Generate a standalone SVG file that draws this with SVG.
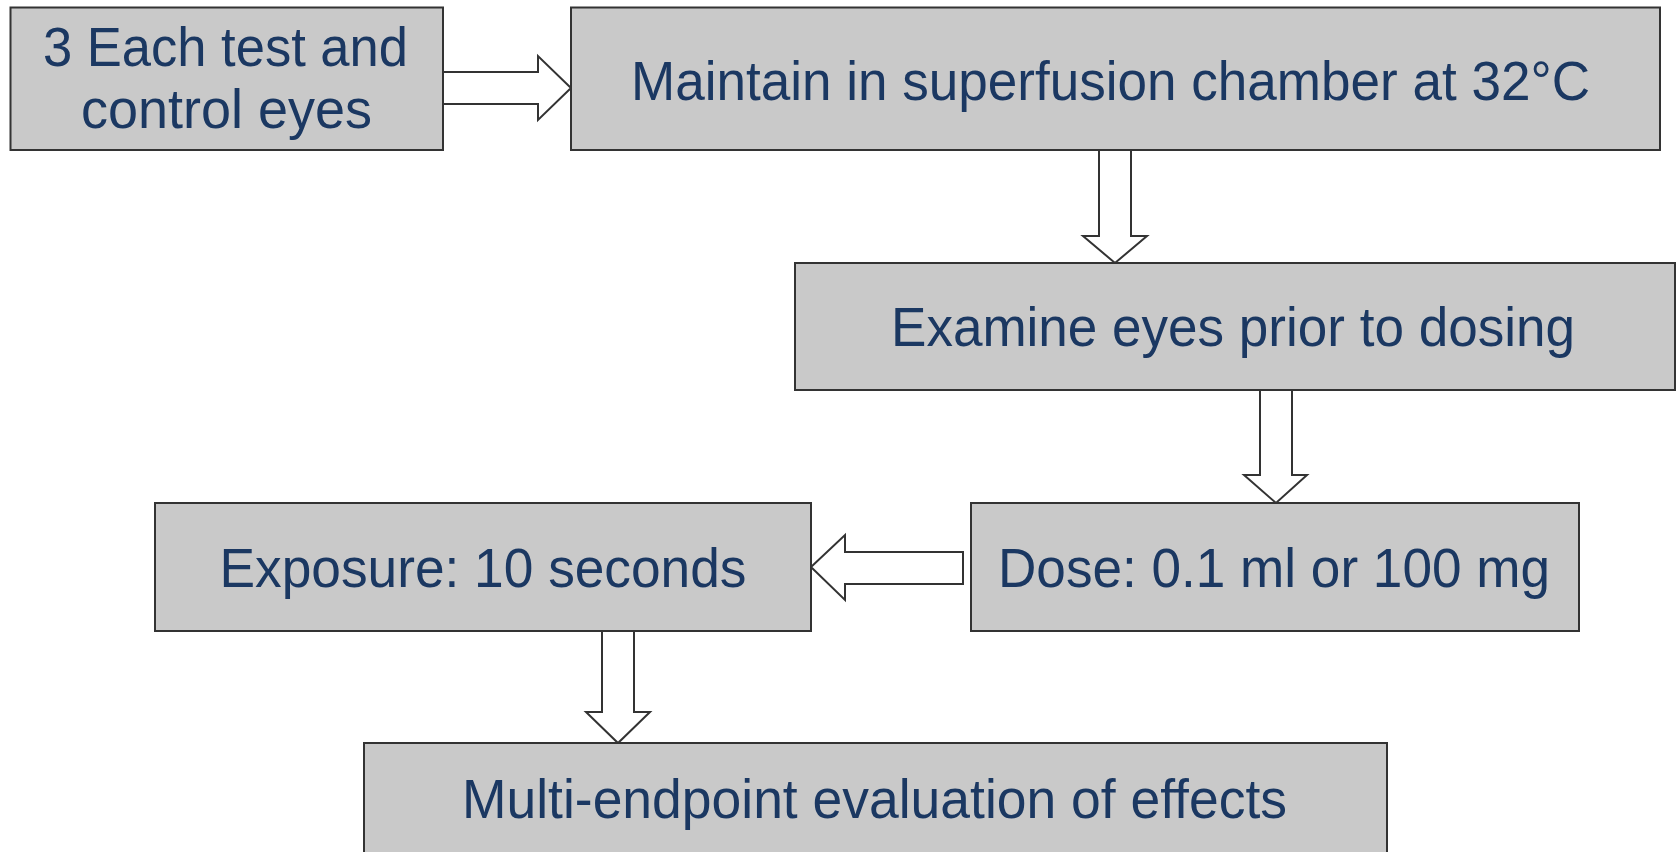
<svg xmlns="http://www.w3.org/2000/svg" width="1677" height="852" viewBox="0 0 1677 852">
<style>
.box{fill:#c9c9c9;stroke:#333;stroke-width:2}
.lbl{font-family:"Liberation Sans",Arial,sans-serif;font-size:55px;fill:#1b3862;text-anchor:middle}
.arr{fill:#fff;stroke:#333;stroke-width:2;stroke-linejoin:miter}
</style>
<rect width="1677" height="852" fill="#fff"/>
<g id="connectors">
<polygon class="arr" points="443,72 538,72 538,56 571,88 538,120 538,104 443,104"/>
<polygon class="arr" points="1099,150 1131,150 1131,236 1147,236 1115,263 1083,236 1099,236"/>
<polygon class="arr" points="1260,390 1292,390 1292,475 1307,475 1276,503 1244,475 1260,475"/>
<polygon class="arr" points="963,552 845,552 845,535 811,567 845,600 845,584 963,584"/>
<polygon class="arr" points="602,631 634,631 634,712 650,712 618,743 586,712 602,712"/>
</g>
<g id="n1">
<rect class="box" x="10.5" y="7.5" width="432.5" height="142.5"/>
<text class="lbl" x="225.5" y="66" textLength="365" lengthAdjust="spacingAndGlyphs">3 Each test and</text>
<text class="lbl" x="226.5" y="128" textLength="291" lengthAdjust="spacingAndGlyphs">control eyes</text>
</g>
<g id="n2">
<rect class="box" x="571" y="7.5" width="1089" height="142.5"/>
<text class="lbl" x="1110.5" y="100" textLength="959" lengthAdjust="spacingAndGlyphs">Maintain in superfusion chamber at 32°C</text>
</g>
<g id="n3">
<rect class="box" x="795" y="263" width="880" height="127"/>
<text class="lbl" x="1233" y="346" textLength="684" lengthAdjust="spacingAndGlyphs">Examine eyes prior to dosing</text>
</g>
<g id="n4">
<rect class="box" x="971" y="503" width="608" height="128"/>
<text class="lbl" x="1274" y="587" textLength="552" lengthAdjust="spacingAndGlyphs">Dose: 0.1 ml or 100 mg</text>
</g>
<g id="n5">
<rect class="box" x="155" y="503" width="656" height="128"/>
<text class="lbl" x="483" y="587" textLength="527" lengthAdjust="spacingAndGlyphs">Exposure: 10 seconds</text>
</g>
<g id="n6">
<rect class="box" x="364" y="743" width="1023" height="125"/>
<text class="lbl" x="874.5" y="818" textLength="825" lengthAdjust="spacingAndGlyphs">Multi-endpoint evaluation of effects</text>
</g>
</svg>
